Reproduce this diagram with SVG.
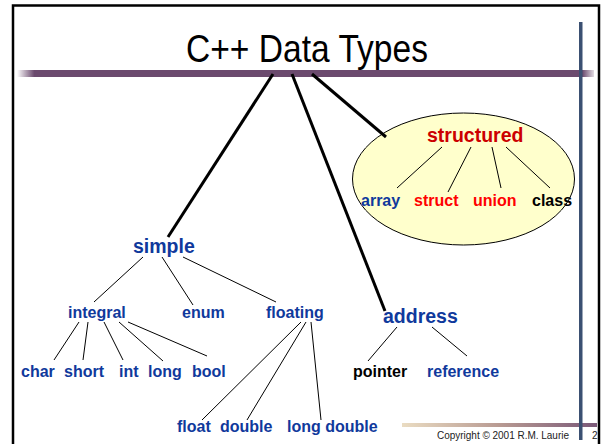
<svg xmlns="http://www.w3.org/2000/svg" width="602" height="444" viewBox="0 0 602 444">
  <defs>
    <linearGradient id="titleBar" x1="0" y1="0" x2="1" y2="0">
      <stop offset="0" stop-color="#6b4a6e" stop-opacity="0"/>
      <stop offset="0.03" stop-color="#6b4a6e" stop-opacity="1"/>
      <stop offset="0.98" stop-color="#6b4a6e" stop-opacity="1"/>
      <stop offset="1" stop-color="#6b4a6e" stop-opacity="0.2"/>
    </linearGradient>
    <linearGradient id="footBar" x1="0" y1="0" x2="1" y2="0">
      <stop offset="0" stop-color="#eadcc2"/>
      <stop offset="0.5" stop-color="#b89a92"/>
      <stop offset="1" stop-color="#7a5878"/>
    </linearGradient>
  </defs>
  <style>
    .lbl { font-family: "Liberation Sans", Arial, sans-serif; font-weight: bold; font-size: 16px; }
    .big { font-size: 19.5px; }
    .blue { fill: #10399c; }
    .red { fill: #ff0000; }
    .dark-red { fill: #cc0000; }
    .blk { fill: #000; }
    .thick { stroke: #000; stroke-width: 3; fill: none; }
    .thin { stroke: #000; stroke-width: 1; fill: none; }
    .foot { font-family: "Liberation Sans", Arial, sans-serif; font-size: 10px; fill: #222; }
  </style>

  <rect width="602" height="444" fill="#fff"/>
  <!-- slide frame -->
  <rect x="13" y="5.5" width="586" height="460" fill="none" stroke="#000" stroke-width="2.5"/>

  <!-- title rule, footer rule and vertical rule -->
  <rect x="17" y="70" width="577" height="7" fill="url(#titleBar)"/>
  <rect x="402" y="423" width="195" height="4" fill="url(#footBar)"/>
  <rect x="579" y="22" width="3.5" height="418" fill="#3b5072"/>

  <!-- title -->
  <text id="title" x="186" y="62" font-family="'Liberation Sans', Arial, sans-serif" font-size="39" textLength="242" lengthAdjust="spacingAndGlyphs" fill="#000">C++ Data Types</text>

  <!-- structured group backdrop -->
  <ellipse id="structured-area" cx="463.5" cy="179" rx="111" ry="66" fill="#ffffcc" stroke="#000" stroke-width="1"/>

  <!-- connectors -->
  <g id="connectors">
    <line class="thick" x1="273" y1="74" x2="168" y2="237"/>
    <line class="thick" x1="292" y1="74" x2="385" y2="311"/>
    <line class="thick" x1="312" y1="74" x2="386" y2="137"/>

    <line class="thin" x1="143" y1="257" x2="94" y2="302"/>
    <line class="thin" x1="162" y1="257" x2="193" y2="305"/>
    <line class="thin" x1="183" y1="257" x2="276" y2="302"/>

    <line class="thin" x1="79" y1="322" x2="54" y2="360"/>
    <line class="thin" x1="88" y1="322" x2="83" y2="360"/>
    <line class="thin" x1="104" y1="322" x2="123" y2="360"/>
    <line class="thin" x1="119" y1="322" x2="163" y2="361"/>
    <line class="thin" x1="128" y1="322" x2="207" y2="356"/>

    <line class="thin" x1="301" y1="322" x2="202" y2="420"/>
    <line class="thin" x1="306" y1="322" x2="247" y2="420"/>
    <line class="thin" x1="311" y1="322" x2="321" y2="420"/>

    <line class="thin" x1="397" y1="327" x2="368" y2="361"/>
    <line class="thin" x1="432" y1="327" x2="467" y2="356"/>

    <line class="thin" x1="442" y1="147" x2="397" y2="188"/>
    <line class="thin" x1="471" y1="147" x2="448" y2="192"/>
    <line class="thin" x1="492" y1="147" x2="501" y2="188"/>
    <line class="thin" x1="506" y1="147" x2="550" y2="188"/>
  </g>

  <!-- nodes -->
  <g id="node-structured"><text class="lbl big dark-red" x="427" y="142">structured</text></g>
  <g id="node-array"><text class="lbl blue" x="361" y="206">array</text></g>
  <g id="node-struct"><text class="lbl red" x="414" y="206">struct</text></g>
  <g id="node-union"><text class="lbl red" x="473" y="206">union</text></g>
  <g id="node-class"><text class="lbl blk" x="532" y="206">class</text></g>

  <g id="node-simple"><text class="lbl big blue" x="133" y="253">simple</text></g>
  <g id="node-integral"><text class="lbl blue" x="68" y="318">integral</text></g>
  <g id="node-enum"><text class="lbl blue" x="182" y="318">enum</text></g>
  <g id="node-floating"><text class="lbl blue" x="266" y="318">floating</text></g>

  <g id="node-char"><text class="lbl blue" x="21" y="377">char</text></g>
  <g id="node-short"><text class="lbl blue" x="64" y="377">short</text></g>
  <g id="node-int"><text class="lbl blue" x="119" y="377">int</text></g>
  <g id="node-long"><text class="lbl blue" x="148" y="377">long</text></g>
  <g id="node-bool"><text class="lbl blue" x="192" y="377">bool</text></g>

  <g id="node-float"><text class="lbl blue" x="177" y="432">float</text></g>
  <g id="node-double"><text class="lbl blue" x="220" y="432">double</text></g>
  <g id="node-long-double"><text class="lbl blue" x="287" y="432">long double</text></g>

  <g id="node-address"><text class="lbl big blue" x="383" y="323">address</text></g>
  <g id="node-pointer"><text class="lbl blk" x="353" y="377">pointer</text></g>
  <g id="node-reference"><text class="lbl blue" x="427" y="377">reference</text></g>

  <!-- footer -->
  <text class="foot" x="437" y="439" textLength="132" lengthAdjust="spacing">Copyright © 2001  R.M. Laurie</text>
  <text class="foot" x="592" y="439">2</text>
</svg>
